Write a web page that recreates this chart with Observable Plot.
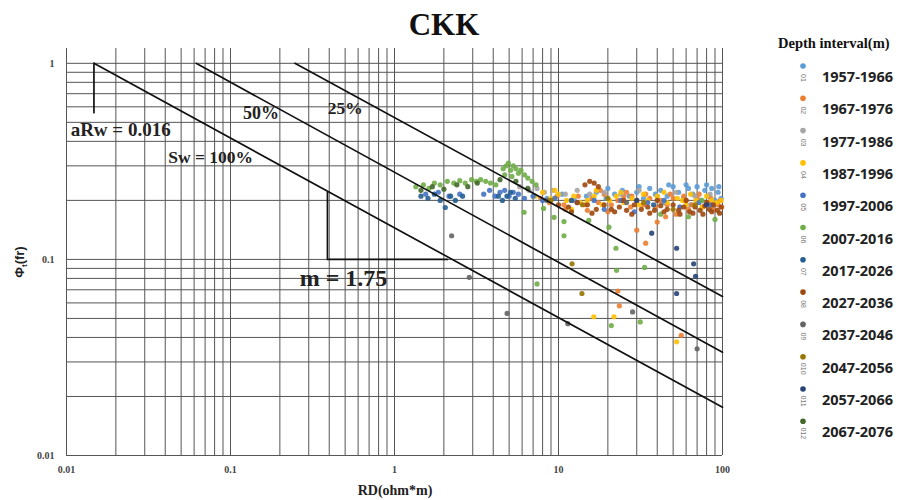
<!DOCTYPE html>
<html><head><meta charset="utf-8">
<script src="https://cdn.jsdelivr.net/npm/d3@7"></script>
<script src="https://cdn.jsdelivr.net/npm/@observablehq/plot@0.6"></script>
<style>body{margin:0;background:#fff;} svg{display:block;}</style>
</head><body><div id="chart"></div>
<script>
// ---------- data ----------
const title = "CKK";
const legendTitle = "Depth interval(m)";
const seriesNames = ["1957-1966","1967-1976","1977-1986","1987-1996","1997-2006","2007-2016","2017-2026","2027-2036","2037-2046","2047-2056","2057-2066","2067-2076"];
const seriesCodes = ["01","02","03","04","05","06","07","08","09","010","011","012"];
const seriesColors = ["#5B9BD5","#ED7D31","#A5A5A5","#FFC000","#4472C4","#70AD47","#255E91","#9E480E","#636363","#997300","#264478","#43682B"];

const xTicks = [0.01, 0.1, 1, 10, 100];
const yTicks = [0.01, 0.1, 1];
const gridMultipliers = [1,2,3,4,5,6,7,8,9];
const xDecades = [0.01, 0.1, 1, 10];
const yDecades = [0.01, 0.1];

// Sw lines (RD, Phi) endpoints
const swLabels = ["Sw = 100%", "50%", "25%"];
const swRD = [[0.0147, 100], [0.0617, 100], [0.247, 100]];
const swPhi = [[1, 0.0176], [1, 0.0336], [1, 0.0647]];
// slope triangle and aRw marker
const triRD = [0.39, 0.39, 2.1];
const triPhi = [0.22, 0.1, 0.1];
const aRwRD = [0.0147, 0.0147];
const aRwPhi = [1, 0.56];

const s01 = [[8.5,0.205],[10.5,0.215],[12.5,0.2],[14.8,0.21],[17,0.22],[19.5,0.205],[22,0.215],[24.5,0.225],[27,0.21],[30,0.22],[33,0.205],[36,0.23],[39,0.215],[42,0.225],[46,0.21],[50,0.235],[54,0.22],[58,0.205],[62,0.23],[66,0.215],[70,0.235],[74,0.2],[78,0.225],[82,0.21],[86,0.23],[90,0.2],[94,0.22],[98,0.205],[44,0.195],[64,0.19],[88,0.185],[20,0.23],[31,0.235],[47,0.24],[60,0.24],[80,0.24],[95,0.235]];
const s02 = [[7.8,0.205],[8.8,0.195],[9.8,0.21],[10.8,0.19],[12,0.2],[13.2,0.21],[14.5,0.19],[16,0.205],[17.5,0.195],[19,0.215],[21,0.19],[23,0.2],[25,0.21],[27.5,0.185],[30,0.2],[33,0.19],[36,0.205],[39,0.185],[42,0.2],[46,0.19],[50,0.205],[55,0.185],[60,0.2],[65,0.19],[70,0.205],[76,0.185],[82,0.195],[88,0.18],[94,0.19],[99,0.185],[45,0.165],[40,0.155],[30,0.141],[34,0.121],[23,0.069],[23.5,0.058],[56,0.041],[18,0.225],[26,0.22],[11,0.18],[15,0.178],[20,0.175],[28,0.21],[34,0.215],[48,0.215],[58,0.21],[72,0.215],[85,0.205],[97,0.2],[62,0.18],[52,0.17]];
const s03 = [[5.8,0.235],[6.6,0.225],[7.4,0.23],[8.2,0.22],[9.2,0.225],[11,0.215],[13,0.225],[15.5,0.215],[19,0.22],[24,0.215],[31,0.225],[40,0.21],[52,0.22],[68,0.21],[84,0.215]];
const s04 = [[7.2,0.21],[8,0.22],[9,0.205],[10,0.215],[11.2,0.2],[12.4,0.21],[13.6,0.195],[15,0.2],[16.5,0.21],[18.5,0.19],[20.5,0.2],[22.5,0.21],[25,0.195],[28,0.205],[31,0.19],[35,0.2],[40,0.21],[46,0.195],[53,0.205],[60,0.19],[69,0.2],[80,0.21],[92,0.195],[16.4,0.051],[21.8,0.051],[52.5,0.038],[57,0.2],[9.5,0.225],[12,0.18],[17,0.225],[24,0.22],[33,0.215],[44,0.22],[64,0.215],[75,0.185],[86,0.2],[98,0.2]];
const s05 = [[1.55,0.215],[1.85,0.22],[2.15,0.21],[2.5,0.215],[3.5,0.215],[3.8,0.225],[4.1,0.21],[4.4,0.22],[4.7,0.225],[5.0,0.21],[5.3,0.22],[5.7,0.215],[6.2,0.205],[7.0,0.21],[8.0,0.2],[9.5,0.205],[13,0.195],[16.5,0.2],[19,0.18],[24,0.2],[29,0.175],[35,0.195],[44,0.2],[55,0.185],[72,0.195],[85,0.19]];
const s06 = [[1.35,0.235],[1.5,0.24],[1.62,0.23],[1.75,0.245],[1.9,0.24],[2.1,0.25],[2.3,0.245],[2.5,0.252],[2.7,0.245],[2.95,0.255],[3.15,0.25],[3.35,0.255],[3.6,0.25],[3.85,0.245],[4.15,0.24],[4.6,0.29],[4.8,0.3],[4.95,0.31],[5.1,0.285],[5.3,0.3],[5.5,0.29],[5.7,0.275],[5.9,0.285],[6.2,0.27],[6.5,0.26],[5.2,0.265],[4.7,0.27],[6.9,0.25],[7.3,0.24],[6.17,0.174],[8.1,0.182],[9.4,0.164],[10.8,0.156],[10.8,0.132],[15.3,0.158],[20.3,0.146],[22.4,0.114],[22.6,0.088],[33.5,0.091],[21,0.046],[31.5,0.048],[7.4,0.075],[42,0.17],[62,0.165],[90,0.16],[75,0.2]];
const s07 = [[1.45,0.21],[1.6,0.205],[1.75,0.215],[1.9,0.2],[2.04,0.184],[2.2,0.21],[2.35,0.2],[2.6,0.21],[4.3,0.21],[4.55,0.2],[4.85,0.21],[5.1,0.22],[5.45,0.205],[12,0.2],[38,0.19]];
const s08 = [[10,0.19],[11.5,0.185],[13,0.195],[14.5,0.24],[15.5,0.25],[16.5,0.245],[17.5,0.235],[15,0.19],[17,0.18],[19,0.19],[21,0.18],[23.5,0.185],[26,0.178],[29,0.19],[32,0.18],[35,0.185],[38.5,0.178],[42,0.188],[46,0.18],[50,0.19],[54,0.178],[58,0.185],[63,0.175],[68,0.185],[73,0.178],[78,0.188],[83,0.18],[88,0.19],[93,0.178],[98,0.185],[60,0.2],[80,0.195],[12,0.175],[16,0.172],[22,0.175],[28,0.17],[36,0.172],[44,0.175],[55,0.17],[66,0.172],[76,0.17],[86,0.175],[96,0.172],[40,0.2],[25,0.2]];
const s09 = [[2.23,0.132],[2.86,0.081],[4.86,0.053],[11.4,0.047],[28.3,0.054],[70,0.035],[8.5,0.2],[26,0.195]];
const s10 = [[9,0.2],[12.1,0.095],[13.9,0.067],[14,0.19],[20,0.205],[33,0.195],[50,0.18],[68,0.19]];
const s11 = [[37,0.136],[52.5,0.114],[66.7,0.095],[68.5,0.082],[52.5,0.067],[30,0.2],[80,0.19]];
const s12 = [[1.45,0.225],[1.7,0.235],[2.0,0.228],[2.4,0.24],[2.8,0.235],[3.2,0.245],[4.4,0.255],[5.5,0.25],[6.5,0.23]];
const seriesData = [s01,s02,s03,s04,s05,s06,s07,s08,s09,s10,s11,s12];

// ---------- derived tables ----------
const points = seriesData.flatMap((arr, i) => arr.map(([rd, phi]) => ({rd, phi, series: seriesNames[i]})));
const xGrid = xDecades.flatMap(d => gridMultipliers.map(m => +(d * m).toPrecision(3))).concat([100]);
const yGrid = yDecades.flatMap(d => gridMultipliers.map(m => +(d * m).toPrecision(3))).concat([1]);
const lineRows = swLabels.flatMap((lab, i) => swRD[i].map((rd, j) => ({lab, rd, phi: swPhi[i][j]})));
const triRows = triRD.map((rd, i) => ({rd, phi: triPhi[i]}));
const aRwRows = aRwRD.map((rd, i) => ({rd, phi: aRwPhi[i]}));
const annotations = [
  {text: "aRw = 0.016", rd: 0.0106, phi: 0.46, size: 19},
  {text: "Sw = 100%", rd: 0.0417, phi: 0.33, size: 17.5},
  {text: "50%", rd: 0.119, phi: 0.555, size: 18},
  {text: "25%", rd: 0.392, phi: 0.59, size: 17.5},
  {text: "m = 1.75", rd: 0.264, phi: 0.08, size: 24}
];
const serif = "Liberation Serif, Times New Roman, serif";

const chart = Plot.plot({
  width: 919, height: 500,
  marginLeft: 66, marginRight: 197, marginTop: 48, marginBottom: 45,
  style: {fontFamily: serif, background: "#fff"},
  x: {type: "log", domain: [0.01, 100]},
  y: {type: "log", domain: [0.01, 1.19]},
  color: {domain: seriesNames, range: seriesColors},
  marks: [
    Plot.ruleX(xGrid, {stroke: "#555", strokeWidth: 1}),
    Plot.ruleY(yGrid, {stroke: "#555", strokeWidth: 1}),
    Plot.axisX(xTicks, {tickSize: 0, tickPadding: 10, tickFormat: d => String(d), fontSize: 10, fontWeight: "bold", fill: "#444", label: null}),
    Plot.axisY(yTicks, {tickSize: 0, tickPadding: 12, tickFormat: d => String(d), fontSize: 10, fontWeight: "bold", fill: "#444", label: null}),
    Plot.dot(points, {x: "rd", y: "phi", fill: "series", r: 2.6, fillOpacity: 0.9}),
    Plot.line(lineRows, {x: "rd", y: "phi", z: "lab", stroke: "#111", strokeWidth: 1.7}),
    Plot.line(triRows, {x: "rd", y: "phi", stroke: "#111", strokeWidth: 1.7}),
    Plot.line(aRwRows, {x: "rd", y: "phi", stroke: "#111", strokeWidth: 1.7}),
    Plot.text(annotations, {x: "rd", y: "phi", text: "text", fontSize: d => d.size, textAnchor: "start", fontWeight: "bold", fill: "#222", fontFamily: serif})
  ]
});
document.getElementById("chart").appendChild(chart);

// ---------- titles & legend ----------
const svg = d3.select(chart);
svg.append("text").attr("x", 444).attr("y", 35).attr("text-anchor", "middle")
  .attr("font-family", serif).attr("font-weight", "bold").attr("font-size", 31).attr("fill", "#111").text(title);
svg.append("text").attr("x", 395).attr("y", 495).attr("text-anchor", "middle")
  .attr("font-family", serif).attr("font-weight", "bold").attr("font-size", 14).attr("fill", "#222").text("RD(ohm*m)");
const yl = svg.append("text").attr("transform", "translate(24,262) rotate(-90)").attr("text-anchor", "middle")
  .attr("font-family", "Liberation Sans, Arial, sans-serif").attr("font-weight", "bold").attr("font-size", 13).attr("fill", "#222");
yl.append("tspan").text("Φ");
yl.append("tspan").attr("font-size", 8).attr("dy", 3).text("t");
yl.append("tspan").attr("dy", -3).text("(fr)");

svg.append("text").attr("x", 778).attr("y", 48).attr("text-anchor", "start").attr("font-family", serif).attr("font-weight", "bold")
  .attr("font-size", 14.5).attr("fill", "#111").text(legendTitle);
seriesNames.forEach((name, i) => {
  const ty = 77 + i * 32.3;
  const g = svg.append("g");
  g.append("circle").attr("cx", 803).attr("cy", ty - 11).attr("r", 2.8).attr("fill", seriesColors[i]);
  g.append("text").attr("transform", `translate(803,${ty + 1}) rotate(90)`).attr("text-anchor", "middle").attr("dy", "0.35em")
    .attr("font-family", "Liberation Sans, sans-serif").attr("font-size", 7).attr("fill", "#777").text(seriesCodes[i]);
  g.append("text").attr("x", 822).attr("y", ty).attr("dy", "0.35em").attr("text-anchor", "start")
    .attr("font-family", "Open Sans, sans-serif").attr("font-weight", "bold").attr("font-size", 14.5).attr("fill", "#222").text(name);
});
</script>
</body></html>
